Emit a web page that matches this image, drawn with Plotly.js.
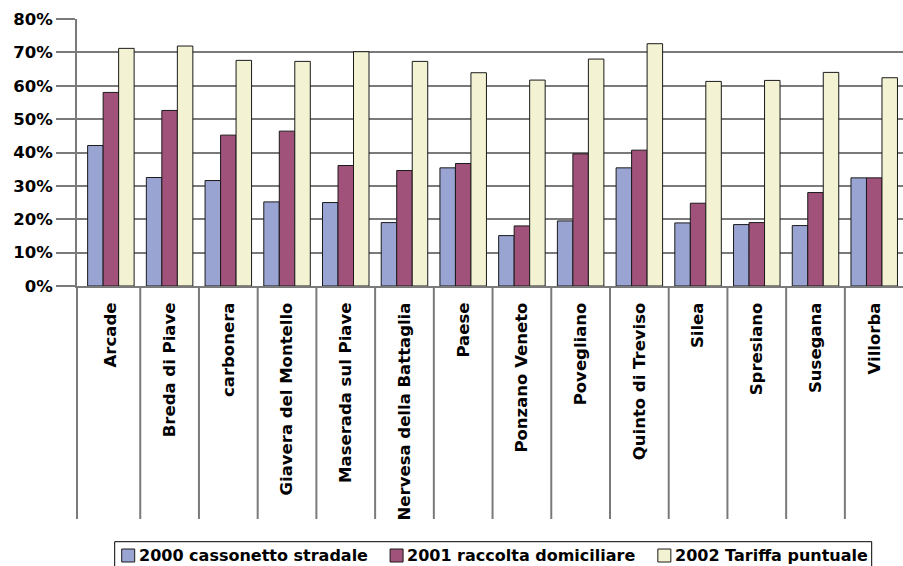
<!DOCTYPE html>
<html>
<head>
<meta charset="utf-8">
<script src="https://cdn.plot.ly/plotly-3.0.1.min.js"></script>
<style>
html,body{margin:0;padding:0;background:#fff;}
#chart{width:903px;height:566px;}
</style>
</head>
<body>
<div id="chart"></div>
<script>
const categories = ["Arcade","Breda di Piave","carbonera","Giavera del Montello","Maserada sul Piave","Nervesa della Battaglia","Paese","Ponzano Veneto","Povegliano","Quinto di Treviso","Silea","Spresiano","Susegana","Villorba"];
const seriesNames = ["2000 cassonetto stradale","2001 raccolta domiciliare","2002 Tariffa puntuale"];
const values2000 = [0.421,0.325,0.316,0.252,0.250,0.190,0.354,0.151,0.195,0.354,0.189,0.184,0.181,0.324];
const values2001 = [0.580,0.526,0.452,0.464,0.361,0.346,0.367,0.180,0.396,0.407,0.248,0.190,0.280,0.324];
const values2002 = [0.712,0.719,0.676,0.673,0.702,0.673,0.639,0.617,0.680,0.726,0.613,0.616,0.640,0.624];
const yTickValues = [0,0.1,0.2,0.3,0.4,0.5,0.6,0.7,0.8];

const colors = ["#9aa4d3","#a0527a","#f3f2d3"];
const seriesValues = [values2000, values2001, values2002];
const FONT = "'DejaVu Sans', Verdana, sans-serif";
const GRID = "#7a7a7a";

// geometry of the plot area in pixels (for placing decorations)
const W = 903, H = 566, ML = 77, MR = 0, MT = 19, MB = 280;
const PW = W - ML - MR, PH = H - MT - MB;
const px2x = p => (p - ML) / PW;
const py2y = p => (H - MB - p) / PH;

const traces = seriesValues.map((vals, i) => ({
  type: "bar",
  name: seriesNames[i],
  x: categories,
  y: vals,
  marker: {color: colors[i], line: {color: "#1a1a1a", width: 1}},
  hoverinfo: "x+y",
  showlegend: false
}));

const shapes = [];
// category separator lines under the axis (table-like label area)
const sepBottom = py2y(519);
shapes.push({type:"line", xref:"paper", yref:"paper", x0:0, x1:0, y0:0, y1:sepBottom, line:{color:GRID, width:2}});
for (let k = 0; k < categories.length - 1; k++) {
  shapes.push({type:"line", xref:"x", yref:"paper", x0:k+0.5, x1:k+0.5, y0:0, y1:sepBottom, line:{color:GRID, width:2}});
}

// legend drawn as a boxed row (symbol + text for each series)
const LEG_FONT_SIZE = 16;
const ctx = document.createElement("canvas").getContext("2d");
ctx.font = "bold " + LEG_FONT_SIZE + "px 'DejaVu Sans'";
const textW = seriesNames.map(s => ctx.measureText(s).width);
const boxL = 114.7, boxR = 871.7, boxT = 541.7, boxB = 575;
const symSize = 13, symGap = 4, padL = 7, padR = 4;
const totalText = textW.reduce((a, b) => a + b, 0);
const gap = (boxR - padR - (boxL + padL) - 3 * (symSize + symGap) - totalText) / 2;
const legY = 555.5;
shapes.push({type:"rect", xref:"paper", yref:"paper", x0:px2x(boxL), x1:px2x(boxR), y0:py2y(boxT), y1:py2y(boxB), line:{color:"#000000", width:1}, fillcolor:"rgba(0,0,0,0)"});
const annotations = [];
let cx = boxL + padL;
for (let i = 0; i < seriesNames.length; i++) {
  shapes.push({type:"rect", xref:"paper", yref:"paper",
    x0:px2x(cx), x1:px2x(cx + symSize), y0:py2y(legY - symSize/2), y1:py2y(legY + symSize/2),
    line:{color:"#1a1a1a", width:1}, fillcolor:colors[i]});
  cx += symSize + symGap;
  annotations.push({xref:"paper", yref:"paper", x:px2x(cx - 2), y:py2y(legY), xanchor:"left", yanchor:"middle",
    showarrow:false, text:seriesNames[i], font:{family:FONT, size:LEG_FONT_SIZE, color:"#000000", weight:700}});
  cx += textW[i] + gap;
}

const layout = {
  width: W,
  height: H,
  margin: {l: ML, r: MR, t: MT, b: MB, pad: 0},
  paper_bgcolor: "#ffffff",
  plot_bgcolor: "#ffffff",
  barmode: "group",
  bargap: 0.208,
  bargroupgap: 0,
  showlegend: false,
  xaxis: {
    type: "category",
    range: [-0.577, 13.49],
    tickangle: -90,
    ticks: "",
    showgrid: false,
    showline: true, linecolor: GRID, linewidth: 2,
    tickfont: {family: FONT, size: 16.5, color: "#000000", weight: 700},
    ticklabelstandoff: 8,
    fixedrange: true
  },
  yaxis: {
    range: [0, 0.8],
    tickvals: yTickValues,
    tickformat: ".0%",
    ticks: "outside", ticklen: 19, tickwidth: 2, tickcolor: GRID,
    showgrid: true, gridcolor: GRID, gridwidth: 2,
    zeroline: false,
    showline: true, linecolor: GRID, linewidth: 2,
    tickfont: {family: FONT, size: 16.5, color: "#000000", weight: 700},
    ticklabelstandoff: 0,
    fixedrange: true
  },
  shapes: shapes,
  annotations: annotations
};

Plotly.newPlot("chart", traces, layout, {displayModeBar: false, staticPlot: true});
</script>
</body>
</html>
